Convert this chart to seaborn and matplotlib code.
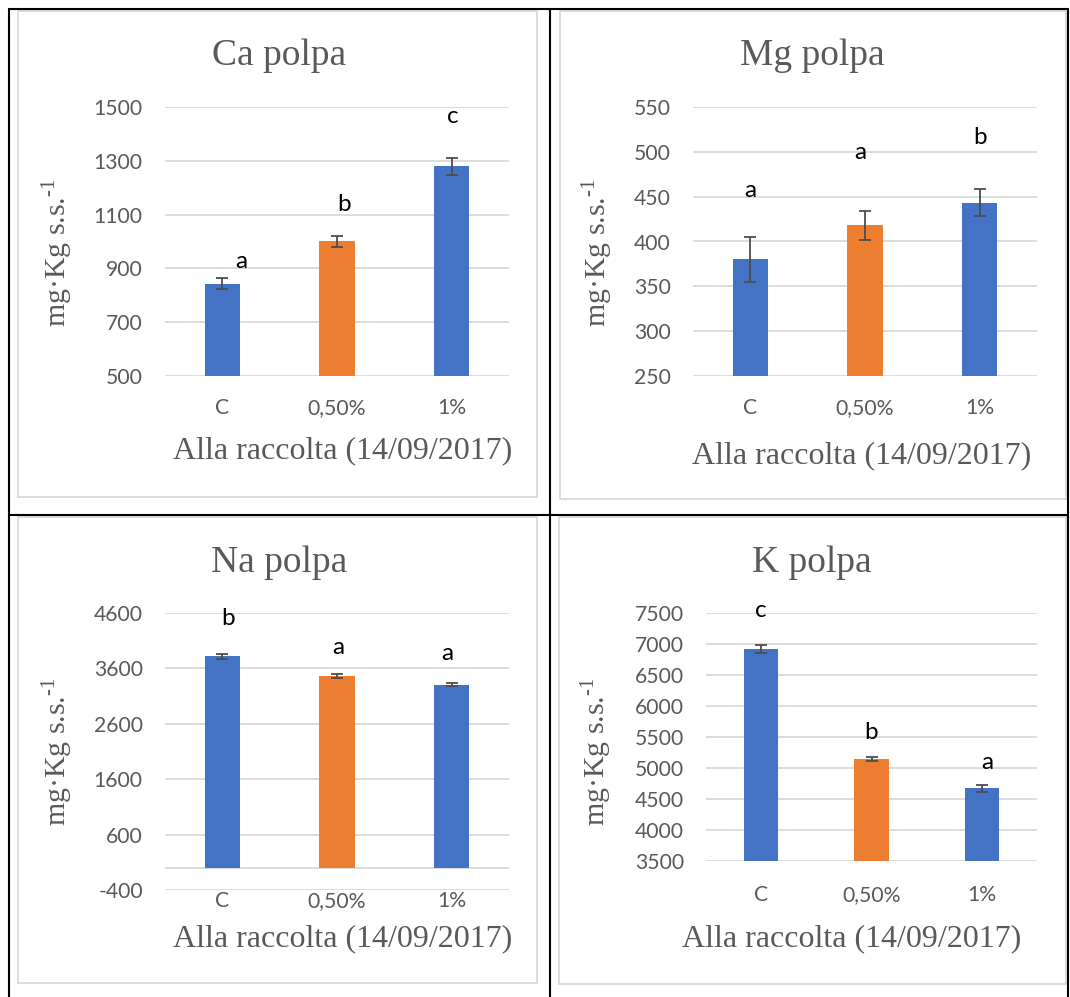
import numpy as np
import pandas as pd
import matplotlib
matplotlib.use("Agg")
import matplotlib.pyplot as plt
import seaborn as sns
from matplotlib.lines import Line2D
from matplotlib.patches import Rectangle

# ---- data -------------------------------------------------------------
categories = ["C", "0,50%", "1%"]
bar_colors = ["#4472C4", "#ED7D31", "#4472C4"]

ca_values = [843, 1000, 1280]
ca_errors = [20, 22, 32]
ca_letters = ["a", "b", "c"]
ca_ticks = [500, 700, 900, 1100, 1300, 1500]

mg_values = [380, 418, 443]
mg_errors = [25, 16, 15]
mg_letters = ["a", "a", "b"]
mg_ticks = [250, 300, 350, 400, 450, 500, 550]

na_values = [3818, 3458, 3308]
na_errors = [45, 40, 30]
na_letters = ["b", "a", "a"]
na_ticks = [-400, 600, 1600, 2600, 3600, 4600]

k_values = [6925, 5145, 4670]
k_errors = [65, 32, 55]
k_letters = ["c", "b", "a"]
k_ticks = [3500, 4000, 4500, 5000, 5500, 6000, 6500, 7000, 7500]

titles = ["Ca polpa", "Mg polpa", "Na polpa", "K polpa"]
x_title = "Alla raccolta (14/09/2017)"
y_title = r"mg·Kg s.s.$^{\text{-1}}$"

# ---- style ------------------------------------------------------------
sns.set_style("white")
plt.rcParams["font.family"] = ["Lato", "DejaVu Sans"]
plt.rcParams["mathtext.fontset"] = "custom"
plt.rcParams["mathtext.rm"] = "Liberation Serif"
plt.rcParams["mathtext.it"] = "Liberation Serif:italic"

SERIF = ["Liberation Serif", "DejaVu Serif"]
SANS = ["Lato", "DejaVu Sans"]
TEXT_GREY = "#595959"
GRID_GREY = "#D9D9D9"

W, H = 1070, 997
fig = plt.figure(figsize=(W / 100, H / 100), dpi=100)
fig.patch.set_facecolor("white")


def fx(x):
    return x / W


def fy(y):
    return 1 - y / H


# pixel layout of each chart cell
panels = [
    dict(values=ca_values, errors=ca_errors, letters=ca_letters, ticks=ca_ticks,
         title=titles[0], box=(165, 107, 509, 376), frame=(18, 11, 537, 497),
         title_xy=(279, 65), xlabel_xy=(343, 458), ylabel_xy=(58, 253),
         xpad=16, letter_xy=[(0.165, 924), (1.064, 1139), (2.01, 1466)]),
    dict(values=mg_values, errors=mg_errors, letters=mg_letters, ticks=mg_ticks,
         title=titles[1], box=(693, 107, 1037, 376), frame=(560, 11, 1066, 499),
         title_xy=(812, 65), xlabel_xy=(862, 463), ylabel_xy=(598, 253),
         xpad=16, letter_xy=[(0.0, 457), (0.955, 499), (2.0, 516)]),
    dict(values=na_values, errors=na_errors, letters=na_letters, ticks=na_ticks,
         title=titles[2], box=(165, 613, 509, 890), frame=(18, 517, 537, 983),
         title_xy=(279, 572), xlabel_xy=(343, 946), ylabel_xy=(58, 752),
         xpad=0.5, letter_xy=[(0.05, 4498), (1.01, 3986), (1.96, 3867)], zero=True),
    dict(values=k_values, errors=k_errors, letters=k_letters, ticks=k_ticks,
         title=titles[3], box=(706, 613, 1037, 861), frame=(559, 517, 1066, 984),
         title_xy=(812, 572), xlabel_xy=(852, 946), ylabel_xy=(597, 752),
         xpad=17, letter_xy=[(0.0, 7543), (1.0, 5573), (2.05, 5090)]),
]

palette = dict(zip(categories, bar_colors))

for p in panels:
    x0, y0, x1, y1 = p["box"]
    ax = fig.add_axes([fx(x0), fy(y1), (x1 - x0) / W, (y1 - y0) / H])
    df = pd.DataFrame({"group": categories, "value": p["values"]})
    sns.barplot(data=df, x="group", y="value", hue="group", palette=palette,
                width=0.31, saturation=1, legend=False, ax=ax, zorder=2,
                linewidth=0)
    ax.errorbar(np.arange(len(categories)), p["values"], yerr=p["errors"],
                fmt="none", ecolor="#4D4D4D", elinewidth=1.3, capsize=4,
                capthick=1.3, zorder=3)
    ax.set_ylim(p["ticks"][0], p["ticks"][-1])
    ax.set_xlim(-0.5, len(categories) - 0.5)
    ax.set_yticks(p["ticks"])
    ax.set_yticklabels([str(t) for t in p["ticks"]])
    ax.yaxis.grid(True, color=GRID_GREY, lw=1.3, zorder=0)
    ax.xaxis.grid(False)
    ax.set_axisbelow(True)
    for s in ax.spines.values():
        s.set_visible(False)
    if p.get("zero"):
        ax.axhline(0, color=GRID_GREY, lw=1.3, zorder=1)
    ax.tick_params(axis="y", length=0, pad=16, labelsize=15.2,
                   labelcolor=TEXT_GREY)
    ax.tick_params(axis="x", length=0, pad=p["xpad"], labelsize=15.2,
                   labelcolor=TEXT_GREY)
    for lab in ax.get_xticklabels() + ax.get_yticklabels():
        lab.set_fontfamily(SANS)
    ax.set_xlabel("")
    ax.set_ylabel("")
    ax.set_facecolor("none")

    for (lx, ly), letter in zip(p["letter_xy"], p["letters"]):
        ax.text(lx, ly, letter, ha="center", va="center", fontsize=17.5,
                color="black", family=SANS, zorder=4)

    tx, ty = p["title_xy"]
    fig.text(fx(tx), fy(ty), p["title"], ha="center", va="baseline",
             fontsize=27, color=TEXT_GREY, family=SERIF)
    lx, ly = p["xlabel_xy"]
    fig.text(fx(lx), fy(ly), x_title, ha="center", va="baseline",
             fontsize=23, color=TEXT_GREY, family=SERIF)
    yx, yy = p["ylabel_xy"]
    fig.text(fx(yx), fy(yy), y_title, ha="center", va="center", rotation=90,
             fontsize=21.5, color=TEXT_GREY, family=SERIF)

    # light chart-area border
    fa, fb, fc, fd = p["frame"]
    fig.add_artist(Rectangle((fx(fa), fy(fd)), (fc - fa) / W, (fd - fb) / H,
                             transform=fig.transFigure, fill=False,
                             edgecolor=GRID_GREY, lw=1.3))

# table rules around the four cells
rules = [((8.5, 9.5), (8.5, 997)), ((549.5, 9.5), (549.5, 997)),
         ((1068, 9.5), (1068, 997)), ((8.5, 9.5), (1068, 9.5)),
         ((8.5, 515), (1068, 515))]
for (a0, b0), (a1, b1) in rules:
    fig.add_artist(Line2D([fx(a0), fx(a1)], [fy(b0), fy(b1)],
                          transform=fig.transFigure, color="black", lw=1.5))

fig.savefig("out.png", dpi=100)
